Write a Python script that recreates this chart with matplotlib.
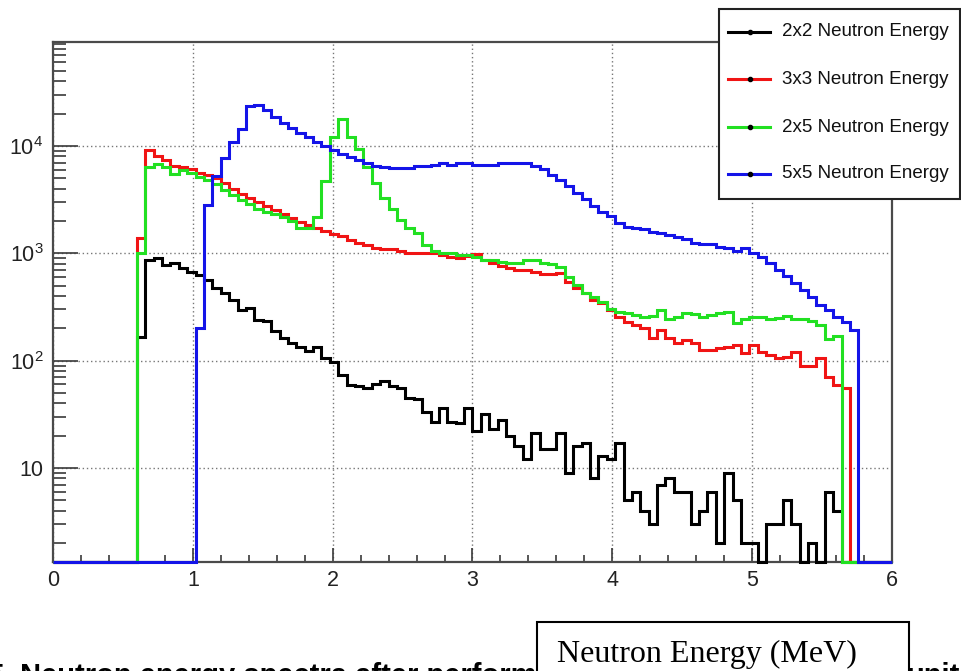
import numpy as np
import matplotlib
matplotlib.use("Agg")
import matplotlib.pyplot as plt
from matplotlib.patches import Rectangle
from matplotlib.lines import Line2D
from matplotlib.ticker import MultipleLocator, LogLocator, NullFormatter, FixedLocator, FixedFormatter

# ROOT-like histogram binning: 100 bins from 0 to 6 MeV
n_bins = 100
e_lo, e_hi = 0.0, 6.0

# first filled bin (MeV) and bin contents
black_start = 0.60
black_counts = [167, 867, 898, 778, 818, 725, 675, 629, 565, 472,
                424, 367, 297, 307, 239, 235, 190, 161, 145, 135,
                124, 135, 105, 98, 74, 59, 58, 55, 61, 64,
                58, 55, 45, 44, 33, 27, 36, 27, 26, 36,
                22, 32, 23, 28, 20, 16, 12, 21, 15, 15,
                21, 9, 16, 17, 8, 13, 12, 17, 5, 6,
                4, 3, 7, 8, 6, 6, 3, 4, 6, 2,
                9, 5, 2, 2, 0, 3, 3, 5, 3, 0,
                2, 0, 6, 4]

red_start = 0.60
red_counts = [1380, 9200, 8070, 7400, 6560, 6420, 6060, 5560, 5370, 5000,
              4500, 4000, 3600, 3300, 3000, 2750, 2520, 2320, 2140, 1970,
              1840, 1720, 1620, 1520, 1440, 1330, 1260, 1200, 1110, 1095,
              1090, 1040, 1010, 1010, 1010, 1000, 965, 930, 898, 944,
              986, 867, 807, 762, 725, 700, 700, 675, 641, 645,
              651, 545, 472, 424, 367, 342, 297, 254, 231, 215,
              200, 161, 193, 161, 145, 156, 145, 126, 126, 130,
              135, 140, 117, 140, 121, 113, 105, 109, 121, 89,
              89, 105, 71, 59, 55]

green_start = 0.60
green_counts = [1000, 6400, 6750, 6350, 5450, 6000, 5560, 5180, 4820, 4450,
                3900, 3500, 3150, 2870, 2580, 2400, 2300, 2200, 2000, 1720,
                1720, 2200, 4700, 12200, 18000, 12200, 9300, 6350, 4500, 3250,
                2600, 2060, 1720, 1530, 1200, 1060, 1000, 1000, 965, 965,
                930, 867, 867, 836, 807, 807, 867, 867, 818, 790,
                751, 607, 507, 424, 395, 355, 301, 286, 276, 267,
                254, 261, 297, 243, 254, 276, 270, 257, 267, 276,
                286, 226, 243, 254, 254, 243, 248, 258, 245, 243,
                235, 215, 158, 170]

blue_start = 1.02
blue_counts = [200, 2800, 5250, 7800, 11000, 14300, 23500, 24000, 21600, 18800,
               16500, 14600, 13100, 12000, 10900, 9900, 9200, 8400, 7850, 7400,
               6900, 6500, 6300, 6200, 6200, 6250, 6500, 6500, 6650, 6900,
               6650, 6900, 6900, 6650, 6650, 6650, 6900, 6900, 6900, 6900,
               6500, 6070, 5400, 4820, 4240, 3670, 3180, 2760, 2440, 2230,
               1900, 1770, 1710, 1680, 1590, 1530, 1480, 1430, 1350, 1260,
               1210, 1210, 1150, 1110, 1060, 1110, 1010, 930, 810, 700,
               610, 525, 455, 395, 330, 297, 257, 231, 193]

labels = ["2x2 Neutron Energy", "3x3 Neutron Energy",
          "2x5 Neutron Energy", "5x5 Neutron Energy"]
colors = ["#000000", "#f01414", "#22e022", "#1414e8"]

y_lo, y_hi = 1.33, 9.3e4

W, H = 962, 671
plt.rcParams.update({
    "font.family": "Liberation Sans",
    "mathtext.default": "regular",
})

edges = np.linspace(e_lo, e_hi, n_bins + 1)
bin_w = (e_hi - e_lo) / n_bins


def full_hist(start, counts):
    vals = np.zeros(n_bins)
    i0 = int(round((start - e_lo) / bin_w))
    vals[i0:i0 + len(counts)] = counts
    return vals


def fx(px):
    return px / W


def fy(py):
    return 1 - py / H


fig = plt.figure(figsize=(W / 100, H / 100), dpi=100)
ax = fig.add_axes([fx(53), fy(562), fx(892) - fx(53), fy(42) - fy(562)])

series = [(black_start, black_counts), (red_start, red_counts),
          (green_start, green_counts), (blue_start, blue_counts)]
for (start, counts), color in zip(series, colors):
    vals = np.maximum(full_hist(start, counts), y_lo)
    ax.stairs(vals, edges, baseline=None, color=color, lw=2.2,
              clip_on=False, zorder=3)

ax.set_yscale("log")
ax.set_xlim(e_lo, e_hi)
ax.set_ylim(y_lo, y_hi)

ax.xaxis.set_major_locator(MultipleLocator(1))
ax.xaxis.set_minor_locator(MultipleLocator(0.2))
ax.yaxis.set_major_locator(FixedLocator([10, 100, 1000, 10000]))
ax.yaxis.set_major_formatter(FixedFormatter(["10", "$10^{2}$", "$10^{3}$", "$10^{4}$"]))
ax.yaxis.set_minor_locator(LogLocator(base=10, subs=range(2, 10), numticks=20))
ax.yaxis.set_minor_formatter(NullFormatter())

tick_col = "#3a3a3a"
ax.tick_params(axis="x", which="major", direction="in", length=10, width=1.2,
               color=tick_col, labelsize=15.5, labelcolor="#222222", pad=6)
ax.tick_params(axis="x", which="minor", direction="in", length=5, width=1.2, color=tick_col)
ax.tick_params(axis="y", which="major", direction="in", length=18, width=1.2,
               color=tick_col, labelsize=15.5, labelcolor="#222222", pad=7)
ax.tick_params(axis="y", which="minor", direction="in", length=9, width=1.2, color=tick_col)

for sp in ax.spines.values():
    sp.set_linewidth(1.6)
    sp.set_color("#4a4a4a")

ax.set_axisbelow(True)
ax.grid(True, which="major", color="#777777", lw=1.0, ls=(0, (1, 2)))

# legend box (ROOT TLegend style, hangs over the frame)
fig.add_artist(Rectangle((fx(719), fy(199)), fx(960) - fx(719), fy(9) - fy(199),
                         transform=fig.transFigure, fc="white", ec="#222222",
                         lw=1.5, zorder=5))
for label, color, ypx in zip(labels, colors, [32, 79, 127, 174]):
    fig.add_artist(Line2D([fx(728), fx(770)], [fy(ypx), fy(ypx)], color=color,
                          lw=2.2, transform=fig.transFigure, zorder=6))
    fig.add_artist(Line2D([fx(750)], [fy(ypx)], color="black", marker="o", ms=3,
                          transform=fig.transFigure, zorder=7))
    fig.text(fx(782), fy(ypx), label, fontsize=13.5, color="#111111",
             va="center", ha="left", zorder=7)

# caption line cut off at the bottom of the image
fig.text(fx(4), fy(684), "Fig. 5", fontsize=21, fontweight="bold",
         ha="right", va="baseline", zorder=4)
fig.text(fx(20), fy(684), "Neutron energy spectra after perform", fontsize=21,
         fontweight="bold", ha="left", va="baseline", zorder=4)
fig.text(fx(906), fy(684), "unite", fontsize=21, fontweight="bold",
         ha="left", va="baseline", zorder=4)

# axis title in a separate box laid over the caption
fig.add_artist(Rectangle((fx(537), fy(700)), fx(909) - fx(537), fy(622) - fy(700),
                         transform=fig.transFigure, fc="white", ec="black",
                         lw=1.5, zorder=6))
fig.text(fx(557), fy(662), "Neutron Energy (MeV)", fontsize=23,
         family="Liberation Serif", ha="left", va="baseline", zorder=7)

fig.savefig("out.png", dpi=100)
